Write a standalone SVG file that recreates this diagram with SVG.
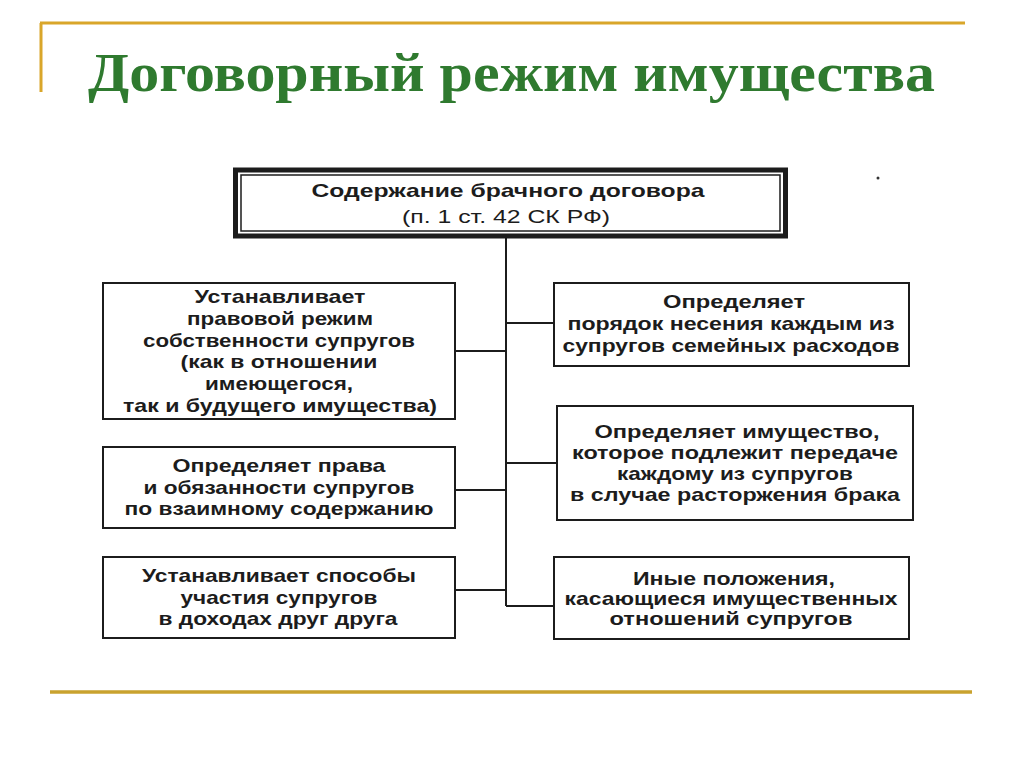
<svg xmlns="http://www.w3.org/2000/svg" width="1024" height="767" viewBox="0 0 1024 767">
<style>
.box{fill:#fff;stroke:#1c1c1c;stroke-width:2}
.t{font-family:"Liberation Sans",Arial,sans-serif;font-weight:bold;font-size:19px;fill:#1c1c1c;text-anchor:middle}
.c{stroke:#1c1c1c;stroke-width:2;fill:none}
.gold{stroke:#D9A62A;stroke-width:3;fill:none}
</style>
<rect width="1024" height="767" fill="#fff"/>
<g id="frame">
<path class="gold" d="M40 23 H965 M41 23 V92"/>
<path d="M50 692 H972" stroke="#C9A22E" stroke-width="3.5"/>
</g>
<text id="title" x="88" y="91" textLength="847" lengthAdjust="spacingAndGlyphs" font-family="'Liberation Serif','Times New Roman',serif" font-weight="bold" font-size="55" fill="#2F7A2F">Договорный режим имущества</text>
<g id="connectors">
<path class="c" d="M506 238 V606 M455 351 H506 M455 490 H506 M455 590 H506 M506 323 H554 M506 463 H557 M506 606 H554"/>
</g>
<g id="root">
<rect x="235.5" y="170" width="550" height="66" fill="#fff" stroke="#1c1c1c" stroke-width="5"/>
<rect x="241" y="175" width="539" height="56" fill="none" stroke="#1c1c1c" stroke-width="1.5"/>
<text class="t" x="508" y="197" textLength="393" lengthAdjust="spacingAndGlyphs">Содержание брачного договора</text>
<text class="t" x="506" y="223" textLength="208" lengthAdjust="spacingAndGlyphs" style="font-weight:normal">(п. 1 ст. 42 СК РФ)</text>
</g>
<g id="left1">
<rect class="box" x="103" y="283" width="352" height="136"/>
<text class="t" x="280" y="303" textLength="171" lengthAdjust="spacingAndGlyphs">Устанавливает</text>
<text class="t" x="280" y="324.8" textLength="186" lengthAdjust="spacingAndGlyphs">правовой режим</text>
<text class="t" x="279" y="346.6" textLength="272" lengthAdjust="spacingAndGlyphs">собственности супругов</text>
<text class="t" x="279" y="368.4" textLength="197" lengthAdjust="spacingAndGlyphs">(как в отношении</text>
<text class="t" x="279" y="390.2" textLength="148" lengthAdjust="spacingAndGlyphs">имеющегося,</text>
<text class="t" x="280" y="412" textLength="314" lengthAdjust="spacingAndGlyphs">так и будущего имущества)</text>
</g>
<g id="left2">
<rect class="box" x="103" y="447" width="352" height="81"/>
<text class="t" x="279" y="472" textLength="213" lengthAdjust="spacingAndGlyphs">Определяет права</text>
<text class="t" x="279" y="493.5" textLength="271" lengthAdjust="spacingAndGlyphs">и обязанности супругов</text>
<text class="t" x="279" y="515" textLength="309" lengthAdjust="spacingAndGlyphs">по взаимному содержанию</text>
</g>
<g id="left3">
<rect class="box" x="103" y="557" width="352" height="81"/>
<text class="t" x="279" y="582" textLength="274" lengthAdjust="spacingAndGlyphs">Устанавливает способы</text>
<text class="t" x="279" y="603.5" textLength="197" lengthAdjust="spacingAndGlyphs">участия супругов</text>
<text class="t" x="278" y="625" textLength="239" lengthAdjust="spacingAndGlyphs">в доходах друг друга</text>
</g>
<g id="right1">
<rect class="box" x="554" y="283" width="355" height="83"/>
<text class="t" x="734" y="308" textLength="142" lengthAdjust="spacingAndGlyphs">Определяет</text>
<text class="t" x="731" y="330" textLength="327" lengthAdjust="spacingAndGlyphs">порядок несения каждым из</text>
<text class="t" x="731" y="352" textLength="337" lengthAdjust="spacingAndGlyphs">супругов семейных расходов</text>
</g>
<g id="right2">
<rect class="box" x="557" y="406" width="356" height="114"/>
<text class="t" x="737" y="438" textLength="285" lengthAdjust="spacingAndGlyphs">Определяет имущество,</text>
<text class="t" x="735" y="459" textLength="326" lengthAdjust="spacingAndGlyphs">которое подлежит передаче</text>
<text class="t" x="735" y="480" textLength="236" lengthAdjust="spacingAndGlyphs">каждому из супругов</text>
<text class="t" x="735" y="501" textLength="330" lengthAdjust="spacingAndGlyphs">в случае расторжения брака</text>
</g>
<g id="right3">
<rect class="box" x="554" y="557" width="355" height="82"/>
<text class="t" x="734" y="585" textLength="202" lengthAdjust="spacingAndGlyphs">Иные положения,</text>
<text class="t" x="731" y="605" textLength="333" lengthAdjust="spacingAndGlyphs">касающиеся имущественных</text>
<text class="t" x="731" y="625" textLength="243" lengthAdjust="spacingAndGlyphs">отношений супругов</text>
</g>
<circle cx="878" cy="178" r="1.5" fill="#333"/>
</svg>
